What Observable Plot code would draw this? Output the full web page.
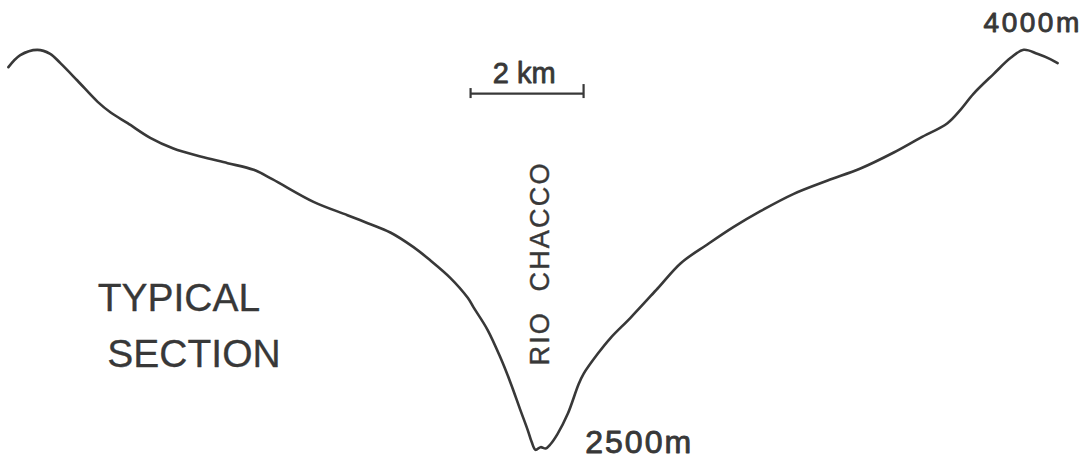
<!DOCTYPE html>
<html>
<head>
<meta charset="utf-8">
<script src="https://cdn.jsdelivr.net/npm/d3@7"></script>
<script src="https://cdn.jsdelivr.net/npm/@observablehq/plot@0.6"></script>
<style>
  html, body { margin: 0; padding: 0; background: #ffffff; }
  #chart { width: 1089px; height: 461px; overflow: hidden; }
  svg text { font-family: "Liberation Sans", Arial, sans-serif; }
</style>
</head>
<body>
<div id="chart"></div>
<script>
// Profile of the valley: horizontal distance (km) and elevation (m)
const distanceKm = [0.14, 0.35, 0.65, 0.88, 1.06, 1.36, 1.72, 1.95, 2.25, 2.65,
  3.06, 3.54, 4.02, 4.48, 4.81, 5.54, 6.14, 6.50, 6.90,
  7.31, 7.61, 7.96, 8.27, 8.37, 8.62, 8.85, 9.03, 9.20, 9.33,
  9.40, 9.47, 9.56, 9.65, 9.73, 9.86, 10.04, 10.23, 10.32, 10.57,
  10.80, 11.15, 11.63, 12.04, 12.51, 12.97, 13.45, 14.04, 14.64, 15.22,
  15.81, 16.28, 16.76, 16.99, 17.22, 17.58, 17.88, 18.11, 18.35, 18.58, 18.71];
const elevationM = [3930, 3975, 3995, 3980, 3945, 3880, 3800, 3760, 3720, 3665,
  3625, 3595, 3570, 3545, 3510, 3425, 3375, 3345, 3310,
  3255, 3205, 3140, 3065, 3030, 2945, 2840, 2745, 2645, 2570,
  2525, 2495, 2505, 2500, 2515, 2555, 2630, 2740, 2780, 2855,
  2915, 2990, 3100, 3195, 3265, 3330, 3390, 3455, 3505, 3550,
  3610, 3665, 3720, 3770, 3830, 3905, 3965, 3995, 3980, 3960, 3945];

// Scale bar (2 km)
const scaleBarStartKm = [8.32];
const scaleBarLengthKm = [2];
const scaleBarElevM = [3831];
const scaleBarLabel = ["2 km"];

// Text annotations
const labelText = ["TYPICAL", "SECTION", "4000m", "2500m"];
const labelKm = [1.72, 1.89, 17.40, 10.35];
const labelElevM = [3062, 2852, 4096, 2520];
const riverName = ["RIO  CHACCO"];
const riverKm = [9.56];
const riverElevM = [3194];

const profile = distanceKm.map((d, i) => ({ d, e: elevationM[i] }));
const labels = labelText.map((t, i) => ({ t, x: labelKm[i], y: labelElevM[i] }));
const bar = scaleBarStartKm.map((s, i) => ({
  x1: s, x2: s + scaleBarLengthKm[i], y: scaleBarElevM[i], label: scaleBarLabel[i]
}));

const ink = "#383838";
const kmPerPx = 1 / 56.5;
const mPerPx = 3.75;

const chart = Plot.plot({
  width: 1089,
  height: 461,
  marginTop: 0, marginBottom: 0, marginLeft: 0, marginRight: 0,
  x: { domain: [0, 1089 * kmPerPx], axis: null },
  y: { domain: [4180 - 461 * mPerPx, 4180], axis: null },
  style: { background: "#ffffff", fontFamily: "Liberation Sans, Arial, sans-serif" },
  marks: [
    Plot.line(profile, { x: "d", y: "e", stroke: ink, strokeWidth: 2.6, curve: "catmull-rom", strokeLinecap: "round" }),
    // scale bar
    Plot.ruleY(bar, { x1: "x1", x2: "x2", y: "y", stroke: ink, strokeWidth: 2.2 }),
    Plot.ruleX(bar, { x: "x1", y1: d => d.y - 5 * mPerPx, y2: d => d.y + 5 * mPerPx, stroke: ink, strokeWidth: 2.2 }),
    Plot.ruleX(bar, { x: "x2", y1: d => d.y - 5 * mPerPx, y2: d => d.y + 9 * mPerPx, stroke: ink, strokeWidth: 2.2 }),
    Plot.text(bar, { x: d => (d.x1 + d.x2) / 2 - 0.05, y: d => d.y + 19.5 * mPerPx, text: "label",
      fontSize: 29, fill: ink, stroke: ink, strokeWidth: 0.8 }),
    // labels
    Plot.text(labels.slice(0, 2), { x: "x", y: "y", text: "t", textAnchor: "start",
      fontSize: 39, fill: ink, stroke: ink, strokeWidth: 0.3 }),
    Plot.text(labels.slice(2, 3), { x: "x", y: "y", text: "t", textAnchor: "start",
      fontSize: 28, fill: ink, stroke: ink, strokeWidth: 0.9 }),
    Plot.text(labels.slice(3, 4), { x: "x", y: "y", text: "t", textAnchor: "start",
      fontSize: 32, fill: ink, stroke: ink, strokeWidth: 0.9 }),
    Plot.text(riverName.map((t, i) => ({ t, x: riverKm[i], y: riverElevM[i] })), {
      x: "x", y: "y", text: "t", rotate: -90, fontSize: 27, fill: ink, stroke: ink, strokeWidth: 0.4 })
  ]
});
// hand-lettered spacing
const spacing = { "4000m": "2.5px", "2500m": "2px", "RIO  CHACCO": "2.2px" };
d3.select(chart).selectAll("text").each(function () {
  const s = spacing[this.textContent];
  if (s) this.setAttribute("letter-spacing", s);
});
document.getElementById("chart").appendChild(chart);
</script>
</body>
</html>
